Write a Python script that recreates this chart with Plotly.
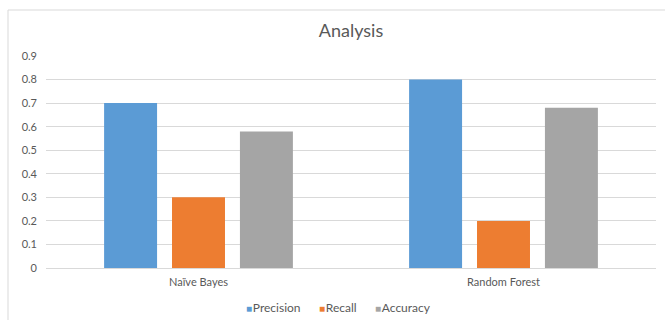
import plotly.graph_objects as go

# Classifier comparison data
models = ["Naïve Bayes", "Random Forest"]
precision = [0.70, 0.80]
recall = [0.30, 0.20]
accuracy = [0.58, 0.68]

series_names = ["Precision", "Recall", "Accuracy"]
series_values = [precision, recall, accuracy]
series_colors = ["#5B9BD5", "#ED7D31", "#A5A5A5"]

y_ticks = [0, 0.1, 0.2, 0.3, 0.4, 0.5, 0.6, 0.7, 0.8, 0.9]
y_tick_text = ["0", "0.1", "0.2", "0.3", "0.4", "0.5", "0.6", "0.7", "0.8", "0.9"]

W, H = 665, 320
ML, MR, MT, MB = 46, 9, 56, 52

fig = go.Figure()
for name, vals, col in zip(series_names, series_values, series_colors):
    fig.add_trace(go.Bar(x=models, y=vals, name=name, showlegend=False,
                         marker=dict(color=col, line=dict(width=0))))

# chart-area frame, expressed in paper coordinates
pw, ph = W - ML - MR, H - MT - MB
def px_x(x):
    return (x - ML) / pw
def px_y(y):
    return (H - MB - y) / ph

fig.add_shape(type="rect", xref="paper", yref="paper",
              x0=px_x(8), x1=px_x(667), y0=px_y(10), y1=px_y(322),
              line=dict(color="#D9D9D9", width=1), fillcolor="rgba(0,0,0,0)", layer="below")

# compact legend row under the axis: coloured square + series name
legend_left_px = [244, 317, 373]
for n, c, lx in zip(series_names, series_colors, legend_left_px):
    fig.add_annotation(text=f'<span style="color:{c};font-size:10px">■</span>&#8202;{n}',
                       xref="paper", yref="paper", x=px_x(lx), y=px_y(307),
                       xanchor="left", yanchor="middle", showarrow=False,
                       font=dict(size=12, color="#595959"))

fig.update_layout(
    width=W, height=H,
    margin=dict(l=ML, r=MR, t=MT, b=MB, autoexpand=False),
    paper_bgcolor="white", plot_bgcolor="white",
    font=dict(family="Lato, Carlito, Calibri, sans-serif", color="#595959", size=11),
    title=dict(text="Analysis", x=0.5, xref="paper", xanchor="center",
               y=1 - 31 / H, yanchor="middle", yref="container",
               font=dict(size=18, color="#595959")),
    barmode="group", bargap=0.332, bargroupgap=0.22,
    showlegend=False,
    xaxis=dict(showgrid=False, showline=False, ticks="", tickfont=dict(size=11),
               ticklabelstandoff=6),
    yaxis=dict(range=[0, 0.9], tickvals=y_ticks, ticktext=y_tick_text,
               showgrid=True, gridcolor="#D9D9D9", gridwidth=1, zeroline=True,
               zerolinecolor="#D9D9D9", zerolinewidth=1, showline=False, ticks="",
               tickfont=dict(size=11), ticklabelstandoff=8),
)

fig.write_html("out.html")
